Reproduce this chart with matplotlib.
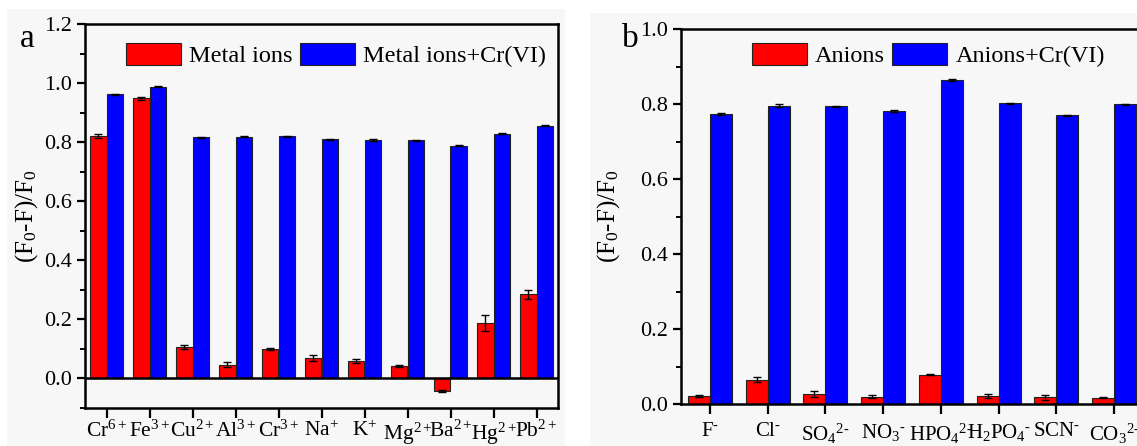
import numpy as np
import matplotlib
matplotlib.use("Agg")
import matplotlib.pyplot as plt
from matplotlib.patches import Rectangle

plt.rcParams['font.family'] = ['Liberation Serif', 'DejaVu Serif']
plt.rcParams['mathtext.fontset'] = 'custom'
plt.rcParams['mathtext.rm'] = 'Liberation Serif'
plt.rcParams['mathtext.it'] = 'Liberation Serif:italic'
plt.rcParams['mathtext.bf'] = 'Liberation Serif:bold'

# panel a: metal ions
metals = [r'Cr$^{6+}$', r'Fe$^{3+}$', r'Cu$^{2+}$', r'Al$^{3+}$', r'Cr$^{3+}$', r'Na$^{+}$',
          r'K$^{+}$', r'Mg$^{2+}$', r'Ba$^{2+}$', r'Hg$^{2+}$', r'Pb$^{2+}$']
metal_only = [0.821, 0.948, 0.106, 0.047, 0.101, 0.068, 0.059, 0.042, -0.043, 0.188, 0.285]
metal_only_err = [0.006, 0.004, 0.006, 0.008, 0.003, 0.010, 0.008, 0.004, 0.003, 0.027, 0.016]
metal_cr = [0.962, 0.988, 0.816, 0.818, 0.820, 0.809, 0.807, 0.806, 0.788, 0.828, 0.856]
metal_cr_err = [0.002, 0.002, 0.002, 0.002, 0.002, 0.003, 0.002, 0.002, 0.002, 0.002, 0.002]

# panel b: anions
anions = [r'F$^{\text{-}}$', r'Cl$^{\text{-}}$', r'SO$_4$$^{2\text{-}}$', r'NO$_3$$^{\text{-}}$',
          r'HPO$_4$$^{2\text{-}}$', r'H$_2$PO$_4$$^{\text{-}}$', r'SCN$^{\text{-}}$',
          r'CO$_3$$^{2\text{-}}$']
anion_only = [0.022, 0.065, 0.028, 0.020, 0.078, 0.021, 0.018, 0.017]
anion_only_err = [0.002, 0.007, 0.008, 0.004, 0.001, 0.005, 0.006, 0.002]
anion_cr = [0.773, 0.795, 0.794, 0.782, 0.864, 0.802, 0.770, 0.799]
anion_cr_err = [0.002, 0.004, 0.002, 0.003, 0.003, 0.002, 0.002, 0.002]

W, H = 1137, 446
fig = plt.figure(figsize=(W / 100, H / 100), dpi=100)
fig.patch.set_facecolor('white')
bg = '#f7f7f7'
fig.patches.append(Rectangle((7 / W, 0), (565 - 7) / W, 1 - 9 / H, transform=fig.transFigure,
                             facecolor=bg, edgecolor='none', zorder=-5))
fig.patches.append(Rectangle((590 / W, 0), (W - 590) / W, 1 - 13 / H, transform=fig.transFigure,
                             facecolor=bg, edgecolor='none', zorder=-5))

w = 0.38
ekw = dict(elinewidth=1, capthick=1, ecolor='black')


def draw(ax, labels, v1, e1, v2, e2, lab1, lab2, leg_xy, xfs):
    x = np.arange(len(labels))
    ax.set_facecolor(bg)
    ax.bar(x - w / 2, v1, w, yerr=e1, color='#ff0000', edgecolor='#222222', linewidth=0.8,
           capsize=3, error_kw=ekw, label=lab1, zorder=2)
    ax.bar(x + w / 2, v2, w, yerr=e2, color='#0000ff', edgecolor='#222222', linewidth=0.8,
           capsize=3, error_kw=ekw, label=lab2, zorder=2)
    ax.set_xticks(x)
    ax.set_xticklabels(labels, fontsize=xfs)
    ax.set_xlim(-0.5, len(labels) - 0.5)
    for s in ax.spines.values():
        s.set_linewidth(1.8)
    ax.tick_params(axis='y', which='major', direction='out', width=1.6, length=6, labelsize=16)
    ax.tick_params(axis='y', which='minor', direction='out', width=1.4, length=3.5)
    ax.tick_params(axis='x', which='major', direction='out', width=1.6, length=7, pad=2)
    ax.set_ylabel(r'(F$_0$-F)/F$_0$', fontsize=18)
    ax.legend(loc='center right', bbox_to_anchor=leg_xy, ncol=2, frameon=False, fontsize=17.5,
              handlelength=2.25, handleheight=1.05, handletextpad=0.35, columnspacing=0.3,
              borderpad=0, borderaxespad=0)


ax1 = fig.add_axes([85 / W, 1 - 408 / H, (558 - 85) / W, (408 - 24) / H])
draw(ax1, metals, metal_only, metal_only_err, metal_cr, metal_cr_err, 'Metal ions',
     'Metal ions+Cr(VI)', (0.975, 0.919), 15.5)
ax1.set_ylim(-0.1, 1.2)
ax1.set_yticks(np.arange(0, 1.21, 0.2))
ax1.set_yticks(np.arange(-0.1, 1.21, 0.1), minor=True)
ax1.set_yticklabels([f'{t:.1f}' for t in np.arange(0, 1.21, 0.2)])
ax1.axhline(0, color='black', linewidth=1.8, zorder=3)
ax1.yaxis.set_label_coords(-0.095, 0.5)
fig.text(20 / W, 1 - 47 / H, 'a', fontsize=24, va='baseline')

ax2 = fig.add_axes([681 / W, 1 - 404 / H, (1143 - 681) / W, (404 - 29) / H])
draw(ax2, anions, anion_only, anion_only_err, anion_cr, anion_cr_err, 'Anions',
     'Anions+Cr(VI)', (0.918, 0.931), 15)
ax2.set_ylim(0, 1.0)
ax2.set_yticks(np.arange(0, 1.01, 0.2))
ax2.set_yticks(np.arange(0, 1.01, 0.1), minor=True)
ax2.set_yticklabels([f'{t:.1f}' for t in np.arange(0, 1.01, 0.2)])
ax2.tick_params(axis='x', which='major', pad=6)
ax2.yaxis.set_label_coords(-0.128, 0.5)
fig.text(622 / W, 1 - 47 / H, 'b', fontsize=24, va='baseline')

fig.savefig('out.png', dpi=100, facecolor=fig.get_facecolor())
